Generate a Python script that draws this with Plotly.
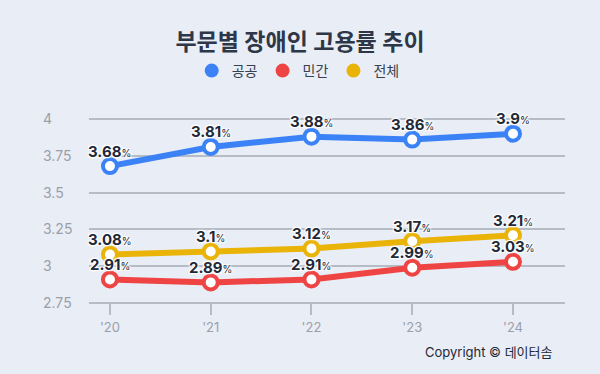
import plotly.graph_objects as go

years = ["'20", "'21", "'22", "'23", "'24"]
series_names = ["공공", "민간", "전체"]
public = [3.68, 3.81, 3.88, 3.86, 3.9]
private = [2.91, 2.89, 2.91, 2.99, 3.03]
total = [3.08, 3.1, 3.12, 3.17, 3.21]
y_ticks = [2.75, 3, 3.25, 3.5, 3.75, 4]
y_tick_labels = ["2.75", "3", "3.25", "3.5", "3.75", "4"]

colors = ["#3b82f6", "#ef4444", "#eab308"]
FONT = "Inter, Noto Sans CJK KR, sans-serif"
shadow = "1px 1px 1px white, -1px -1px 1px white, 1px -1px 1px white, -1px 1px 1px white, 0 0 3px white"

# pixel geometry: value 4 at y=119, value 2.75 at y=303; pad plot area by EXT px
EXT = 12
per_px = (4.0 - 2.75) / 184
y_range = [2.75 - EXT * per_px, 4.0 + EXT * per_px]

fig = go.Figure()
xs = list(range(len(years)))
annotations = []
for name, vals, c in zip(series_names, [public, private, total], colors):
    fig.add_trace(go.Scatter(
        x=xs, y=vals, mode="lines+markers", name=name, showlegend=False,
        line=dict(color=c, width=6),
        marker=dict(size=14, color="white", line=dict(color=c, width=4)),
        cliponaxis=False, hoverinfo="skip",
    ))
    for xi, v in zip(xs, vals):
        annotations.append(dict(
            x=xi, y=v, xref="x", yref="y", showarrow=False,
            text=f"<b>{v:g}</b><span style='font-size:10px'>%</span>",
            yanchor="middle", xanchor="center", yshift=15,
            font=dict(family=FONT, size=15, color="#1f2937", shadow=shadow),
        ))
for name, c in zip(series_names, colors):
    fig.add_trace(go.Scatter(
        x=[None], y=[None], mode="markers", name=name,
        marker=dict(size=14, color=c),
    ))

plot_h = 184 + 2 * EXT
annotations.append(dict(text="Copyright © 데이터솜", xref="paper", yref="paper",
                        x=(555 - 89) / 476, xanchor="right",
                        y=((303 + EXT) - 352) / plot_h, yanchor="middle",
                        showarrow=False, font=dict(family=FONT, size=13, color="#1f2937")))

fig.update_layout(
    width=600, height=374,
    paper_bgcolor="#e9edf5", plot_bgcolor="#e9edf5",
    margin=dict(l=89, r=35, t=119 - EXT, b=71 - EXT),
    font=dict(family=FONT),
    title=dict(text="<b>부문별 장애인 고용률 추이</b>", x=0.5, xanchor="center",
               y=1 - 42 / 374, yanchor="middle",
               font=dict(family=FONT, size=23, color="#2d3748")),
    legend=dict(orientation="h", x=0.497, xref="container", xanchor="center", yref="container",
                y=1 - 71 / 374, yanchor="middle",
                font=dict(family=FONT, size=14, color="#374151"),
                itemwidth=30, bgcolor="rgba(0,0,0,0)"),
    showlegend=True,
    xaxis=dict(range=[-0.208, 4.516], tickvals=xs, ticktext=years,
               showgrid=False, zeroline=False, showline=False,
               ticks="inside", ticklen=EXT - 1, tickwidth=2, tickcolor="#b6bcc6",
               tickfont=dict(family=FONT, size=13, color="#9aa0aa"), ticklabelstandoff=3),
    yaxis=dict(range=y_range, tickvals=y_ticks, ticktext=y_tick_labels,
               showgrid=True, gridcolor="#b6bcc6", gridwidth=2, zeroline=False,
               ticklabelposition="inside", ticklabelstandoff=-49,
               tickfont=dict(family=FONT, size=14, color="#9aa0aa")),
    annotations=annotations,
)
fig.write_html("out.html", config={"displayModeBar": False},
               post_script="document.body.style.margin='0';document.body.style.background='#e9edf5';")
